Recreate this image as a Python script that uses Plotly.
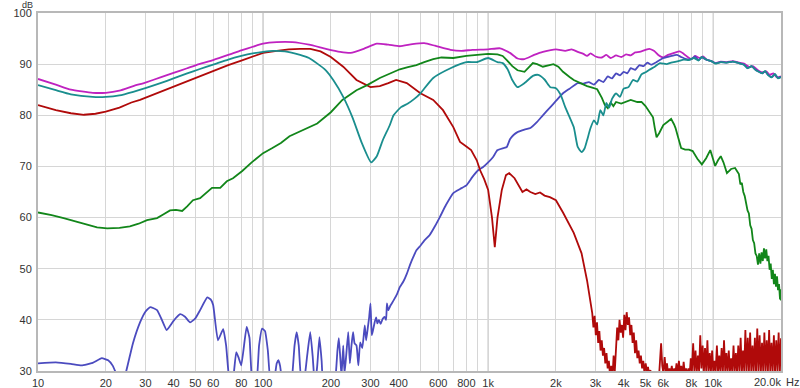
import numpy as np
import plotly.graph_objects as go

# ---------------- data ----------------
sum_freq = [10, 12, 14, 17.5, 20, 23, 26.5, 30, 35, 40, 46, 52, 60, 70, 80, 90, 100, 115, 135, 160, 190, 220, 245,
            280, 320, 360, 405, 460, 520, 580, 680, 760, 850, 1000, 1130, 1250, 1350, 1450, 1600, 1750, 2000, 2200,
            2350, 2500, 2650, 2750, 2850, 3000, 3200, 3350, 3500, 3700, 3900, 4100, 4300, 4500, 4700, 5000, 5200,
            5450, 5700, 6000, 6300, 6700, 7100, 7400, 7700, 8000, 8300, 8700, 9000, 9400, 9800, 10200, 10800, 11500,
            12200, 13000, 13700, 14500, 15000, 15800, 16500, 17200, 17800, 18500, 19200, 20000]
sum_db = [87.1, 86.0, 85.0, 84.4, 84.4, 84.8, 85.7, 86.4, 87.4, 88.3, 89.2, 90.0, 90.8, 91.8, 92.7, 93.4, 94.0, 94.3,
          94.3, 93.8, 93.0, 92.4, 92.2, 93.0, 94.0, 93.8, 93.5, 93.9, 94.1, 93.6, 92.8, 92.6, 92.8, 92.9, 93.1, 92.2,
          91.1, 91.0, 91.8, 92.4, 92.9, 92.6, 92.9, 92.4, 92.0, 91.6, 92.1, 91.5, 91.3, 91.8, 91.2, 91.7, 91.4, 91.9,
          91.7, 92.3, 92.4, 92.8, 93.0, 92.6, 91.8, 91.3, 91.8, 92.2, 92.5, 92.0, 91.4, 91.0, 91.6, 91.2, 91.5, 90.8,
          90.6, 90.2, 90.5, 90.4, 90.6, 90.3, 90.1, 89.4, 89.6, 88.8, 88.4, 88.6, 87.9, 88.2, 87.4, 87.6]

mid_freq = [10, 12, 14, 17.5, 20, 23, 26.5, 30, 35, 40, 46, 52, 60, 70, 80, 90, 100, 111, 125, 146, 160, 173, 190,
            205, 227, 250, 275, 302, 320, 340, 365, 380, 410, 440, 470, 500, 570, 680, 800, 890, 1000, 1100, 1160,
            1220, 1280, 1350, 1450, 1580, 1670, 1780, 1890, 2000, 2100, 2200, 2400, 2500, 2600, 2680, 2750, 2850,
            2950, 3050, 3150, 3250, 3350, 3450, 3550, 3700, 3850, 4000, 4200, 4400, 4600, 4800, 5000, 5200, 5500,
            5800, 6200, 6500, 7000, 7400, 7800, 8200, 8600, 8900, 9300, 9800, 10200, 10800, 11500, 12200, 13000,
            13700, 14200, 14800, 15400, 15800, 16500, 17000, 17500, 18200, 18800, 19400, 20000]
mid_db = [85.9, 84.9, 84.1, 83.6, 83.6, 83.9, 84.6, 85.3, 86.3, 87.2, 88.2, 89.0, 89.9, 90.9, 91.6, 92.1, 92.4, 92.6,
          92.5, 91.8, 91.2, 90.2, 88.8, 86.9, 83.6, 79.5, 74.5, 70.8, 72.0, 75.1, 78.0, 80.0, 81.6, 82.3, 83.2, 84.3,
          87.3, 89.2, 90.4, 90.4, 91.2, 90.4, 90.2, 89.0, 86.9, 85.5, 86.3, 87.7, 87.9, 87.0, 85.5, 85.3, 84.0, 81.6,
          77.7, 73.8, 72.8, 73.5, 75.1, 77.5, 79.0, 78.2, 81.0, 80.0, 82.4, 81.5, 83.2, 84.3, 83.6, 85.2, 85.5, 86.9,
          86.6, 88.0, 88.4, 88.9, 89.5, 90.2, 90.0, 90.3, 90.6, 90.9, 90.8, 91.2, 90.7, 91.4, 90.9, 90.6, 90.1, 90.4,
          90.3, 90.5, 90.2, 89.9, 89.2, 89.6, 88.9, 88.6, 88.2, 88.7, 87.9, 87.4, 88.1, 87.2, 87.5]

woofer_freq = [10, 12, 14, 16, 18, 20, 23, 26, 28.4, 32, 37, 43, 52, 60, 70, 80, 90, 100, 115, 130, 146, 162, 180,
               200, 227, 260, 300, 330, 360, 390, 435, 500, 570, 630, 700, 750, 800, 840, 890, 920, 960, 1000, 1040,
               1070, 1100, 1150, 1200, 1240, 1310, 1420, 1480, 1540, 1620, 1700, 1780, 1880, 2000, 2150, 2400, 2600,
               2750, 2850]
woofer_db = [82.0, 81.0, 80.4, 80.1, 80.3, 80.7, 81.5, 82.5, 83.0, 83.9, 85.0, 86.2, 87.7, 88.7, 89.8, 90.7, 91.5,
             92.2, 92.6, 92.9, 93.0, 93.0, 92.5, 91.4, 89.5, 86.9, 85.5, 85.7, 86.3, 86.9, 86.3, 84.3, 83.0, 81.0,
             77.7, 74.8, 73.9, 73.2, 71.2, 69.3, 67.5, 65.4, 60.0, 54.2, 60.0, 65.4, 68.3, 68.7, 67.7, 65.0, 65.5,
             65.0, 64.6, 64.9, 64.3, 64.0, 63.4, 61.0, 57.0, 53.0, 47.7, 43.2]
# woofer noise floor above 2.9 kHz (160 log-spaced readings 2.9k..20k)
woofer_hf_db = [41.3, 38.5, 40.8, 37.0, 39.5, 35.5, 37.8, 34.0, 36.0, 33.0,
                34.5, 31.5, 33.5, 30.5, 32.0, 29.0, 31.0, 28.5, 33.0, 30.0,
                35.0, 38.5, 36.0, 40.0, 37.5, 39.0, 36.5, 41.0, 38.0, 41.5,
                39.0, 40.5, 37.0, 39.0, 35.5, 37.5, 33.5, 36.0, 32.5, 34.0,
                31.5, 33.0, 30.5, 32.0, 29.5, 31.5, 30.0, 30.8, 29.0, 30.2,
                28.0, 29.0, 27.5, 28.5, 27.0, 29.0, 28.0, 33.0, 35.4, 31.0,
                29.5, 32.7, 30.0, 31.5, 29.0, 30.5, 29.5, 31.0, 29.0, 30.5,
                29.5, 31.5, 29.0, 32.0, 29.5, 31.0, 29.0, 31.8, 29.5, 30.5,
                29.0, 30.5, 29.0, 32.5, 30.0, 35.4, 30.0, 34.0, 29.5, 33.0,
                30.0, 37.0, 30.5, 35.0, 29.5, 34.5, 30.0, 36.0, 29.5, 33.5,
                30.0, 34.0, 29.5, 32.0, 30.0, 35.0, 29.5, 33.0, 30.0, 34.5,
                29.5, 36.0, 30.0, 33.5, 29.5, 34.0, 30.0, 32.5, 29.5, 35.0,
                30.0, 33.5, 29.5, 35.0, 30.0, 36.5, 29.5, 34.0, 30.0, 38.0,
                29.5, 36.5, 30.0, 37.5, 29.5, 35.0, 30.0, 36.5, 29.5, 38.3,
                30.0, 37.0, 29.5, 35.5, 30.0, 37.5, 29.5, 36.0, 30.0, 38.0,
                29.5, 35.5, 30.0, 37.0, 29.5, 36.0, 30.0, 37.5, 29.5, 36.4]

mr_freq = [10, 11.5, 13, 15, 18.3, 20.3, 23, 25.6, 28, 30.5, 33.8, 36, 38.6, 41, 43.7, 46, 48.8, 52.5, 56, 59.3, 64.5,
           69, 73.5, 80.8, 89, 100, 110, 120, 131, 146, 160, 174, 200, 225, 260, 290, 330, 370, 405, 440, 480, 520,
           570, 620, 700, 800, 900, 1000, 1100, 1160, 1210, 1280, 1350, 1450, 1580, 1650, 1750, 1850, 1950, 2050,
           2150, 2300, 2400, 2600, 2750, 2900, 3050, 3200, 3300, 3400, 3500, 3600, 3700, 3900, 4100, 4300, 4600,
           4800, 5000, 5200, 5400, 5500, 5600, 5750, 6000, 6250, 6500, 6700, 6800, 7000, 7200, 7500, 7800, 8100,
           8500, 8900, 9300, 9700, 10000, 10200, 10500, 10800, 11100, 11500, 12000, 12500, 13000, 13200, 13400,
           13600, 13800, 14000, 14200, 14400, 14600, 14800, 15000, 15200, 15400, 15600, 15800, 16000, 16200, 16400,
           16600, 16800, 17000, 17200, 17400, 17600, 17800, 18000, 18200, 18400, 18600, 18800, 19000, 19200, 19400,
           19600, 19800, 19900, 20000]
mr_db = [61.0, 60.5, 59.9, 59.2, 58.1, 57.9, 58.0, 58.3, 58.8, 59.5, 59.9, 60.6, 61.4, 61.5, 61.3, 62.2, 63.4, 63.8,
         64.8, 65.8, 65.8, 67.1, 67.7, 69.1, 70.8, 72.6, 73.6, 74.6, 75.9, 76.8, 77.6, 78.4, 80.6, 83.0, 84.9, 85.9,
         87.3, 88.3, 89.0, 89.4, 89.8, 90.4, 91.0, 91.3, 91.2, 91.6, 91.8, 92.0, 91.9, 91.6, 90.8, 89.6, 88.8, 88.5,
         90.2, 90.0, 89.5, 89.8, 90.0, 89.5, 88.5, 87.5, 86.9, 86.2, 85.7, 85.4, 85.1, 83.4, 82.0, 81.4, 82.5, 81.8,
         82.6, 82.3, 82.6, 83.0, 82.6, 82.6, 81.8, 80.8, 79.6, 77.5, 75.7, 76.5, 78.1, 78.7, 79.3, 78.2, 77.5, 75.5,
         73.6, 73.3, 73.3, 73.0, 71.5, 70.4, 71.6, 73.2, 71.5, 70.1, 71.2, 72.0, 70.8, 68.7, 69.5, 69.7, 68.5, 66.5,
         66.8, 65.0, 64.2, 62.8, 61.4, 60.8, 58.5, 57.8, 55.6, 55.0, 53.0, 52.5, 50.8, 53.0, 51.0, 53.2, 51.5, 54.0,
         52.0, 53.8, 51.5, 52.5, 49.8, 51.0, 48.0, 49.8, 47.0, 49.0, 46.5, 48.5, 45.8, 47.0, 44.0, 46.0, 43.8]

tw_freq = [10, 12, 14, 15.6, 17.5, 19.2, 20.5, 21.5, 22.5, 23.5, 24.6, 26.4, 28.4, 30, 31.5, 33.8, 35.5, 37.3, 40,
           42.8, 45, 47.4, 50, 52.5, 56.5, 58.5, 60, 63, 66.5, 68.5, 71, 73, 76, 78, 80, 84.5, 87, 90, 93, 96, 99,
           102, 105, 108, 112, 115, 117, 119, 122, 128, 134, 138, 141, 144, 148, 153, 157, 162, 166, 170, 174, 178,
           182, 186, 200, 210, 214, 217, 220, 223, 227, 230, 234, 239, 243, 247, 251, 255, 260, 265, 270, 276, 283,
           287, 292, 296, 300, 304, 308, 313, 318, 322, 327, 333, 340, 347, 352, 355, 360, 368, 380, 395, 405, 420,
           435, 450, 465, 480, 500, 520, 550, 580, 610, 650, 700, 750, 800, 850, 900, 950, 1000, 1050, 1100, 1170,
           1210, 1250, 1300, 1350, 1450, 1540, 1650, 1750, 1890, 2000, 2150, 2300, 2500, 2650, 2800, 2950, 3100,
           3250, 3400, 3550, 3700, 3850, 4000, 4150, 4300, 4500, 4700, 4900, 5100, 5300, 5600, 6000, 6400, 6900,
           7200, 7600, 8000, 8300, 8600, 8900, 9300, 9800, 10200, 10800, 11500, 12200, 13000, 13700, 14200, 14800,
           15400, 15800, 16500, 17000, 17500, 18200, 18800, 19400, 20000]
tw_db = [31.5, 31.7, 31.4, 31.1, 31.6, 32.5, 32.1, 31.0, 29.0, 27.5, 29.8, 35.4, 39.5, 41.6, 42.5, 41.9, 40.0, 38.0,
         39.8, 41.1, 40.6, 39.5, 40.3, 41.9, 44.4, 44.0, 42.9, 36.0, 38.2, 35.0, 28.0, 27.5, 33.7, 32.5, 31.1, 38.6,
         36.5, 27.0, 27.0, 35.0, 38.3, 37.8, 34.0, 28.0, 28.5, 31.5, 32.1, 31.0, 27.5, 25.0, 28.0, 35.0, 37.6, 35.0,
         28.0, 29.0, 33.0, 37.6, 33.0, 27.0, 31.0, 36.6, 32.0, 26.0, 24.0, 29.0, 34.0, 36.4, 33.0, 29.0, 35.0, 29.5,
         33.0, 37.6, 31.5, 35.0, 37.6, 35.4, 35.0, 31.1, 35.6, 34.5, 38.9, 36.0, 38.5, 40.5, 43.2, 37.0, 38.0, 39.5,
         40.5, 39.3, 40.0, 39.2, 40.2, 40.6, 40.0, 43.2, 41.9, 42.8, 43.8, 45.2, 46.4, 47.5, 49.0, 50.8, 52.3, 53.6,
         54.5, 55.5, 56.6, 58.3, 60.1, 62.5, 64.8, 65.6, 66.3, 67.9, 69.2, 69.9, 70.8, 71.8, 73.2, 73.6, 73.8, 75.3,
         76.2, 76.7, 77.2, 77.5, 78.7, 80.0, 81.6, 82.8, 84.3, 85.2, 86.3, 86.2, 86.5, 86.0, 86.9, 86.5, 87.6, 87.2,
         88.2, 87.8, 88.5, 88.2, 89.2, 88.9, 89.8, 89.6, 90.3, 89.9, 90.4, 91.2, 91.5, 91.8, 91.4, 91.0, 91.0, 91.5,
         90.8, 91.3, 90.9, 90.6, 90.2, 90.4, 90.3, 90.5, 90.2, 89.9, 89.2, 89.6, 88.9, 88.6, 88.2, 88.6, 87.9, 87.5,
         88.0, 87.3, 87.5]

tick_vals = [10, 20, 30, 40, 50, 60, 70, 80, 90, 100, 200, 300, 400, 500, 600, 700, 800, 900, 1000,
             2000, 3000, 4000, 5000, 6000, 7000, 8000, 9000, 10000, 20000]
tick_text = ["10", "20", "30", "40", "50", "60", "", "80", "", "100", "200", "300", "400", "", "600", "", "800", "",
             "1k", "2k", "3k", "4k", "5k", "6k", "", "8k", "", "10k", ""]
decades = [100, 1000, 10000]

# ---------------- figure ----------------
woofer_hf_freq = np.geomspace(2900, 20000, len(woofer_hf_db))
w_f = list(woofer_freq) + list(woofer_hf_freq)
w_d = list(woofer_db) + list(woofer_hf_db)

fig = go.Figure()
LW = 1.8
fig.add_trace(go.Scatter(x=sum_freq, y=sum_db, mode="lines", line=dict(color="#bf22c0", width=LW, shape="spline", smoothing=0.5), name="sum"))
fig.add_trace(go.Scatter(x=tw_freq, y=tw_db, mode="lines", line=dict(color="#4b4bbf", width=LW, shape="spline", smoothing=0.4), name="tweeter"))
fig.add_trace(go.Scatter(x=w_f, y=w_d, mode="lines", line=dict(color="#b00a0a", width=LW), name="woofer"))
fig.add_trace(go.Scatter(x=mr_freq, y=mr_db, mode="lines", line=dict(color="#12861a", width=LW), name="mid"))
fig.add_trace(go.Scatter(x=mid_freq, y=mid_db, mode="lines", line=dict(color="#1a8e8e", width=LW, shape="spline", smoothing=0.5), name="midrange"))

for d in decades:
    fig.add_shape(type="line", xref="x", yref="paper", x0=d, x1=d, y0=0, y1=1,
                  line=dict(color="#a9a9a9", width=1), layer="below")

fig.update_layout(
    width=800, height=388,
    margin=dict(l=38, r=19, t=13, b=17, autoexpand=False),
    paper_bgcolor="white", plot_bgcolor="white",
    showlegend=False,
    font=dict(family="Liberation Sans, Arial, sans-serif", size=11, color="#333333"),
)
fig.update_xaxes(type="log", range=[1, np.log10(20000)], tickvals=tick_vals, ticktext=tick_text,
                 showgrid=True, gridcolor="#d6d6d6", gridwidth=1, ticks="", zeroline=False, automargin=False,
                 showline=True, linecolor="#b8b8b8", linewidth=2, mirror=True, ticklabelstandoff=1)
fig.update_yaxes(range=[30, 100], dtick=10, showgrid=True, gridcolor="#d6d6d6", gridwidth=1, ticks="",
                 zeroline=False, automargin=False, showline=True, linecolor="#b8b8b8", linewidth=2, mirror=True,
                 ticklabelstandoff=2)

fig.add_annotation(text="dB", xref="paper", yref="paper", x=0, y=1, xanchor="right", yanchor="middle",
                   xshift=-3, yshift=8, showarrow=False, font=dict(size=9, color="#333333"))
fig.add_annotation(text="20.0k", xref="paper", yref="paper", x=1, y=0, xanchor="right", yanchor="middle",
                   xshift=2, yshift=-11, showarrow=False, font=dict(size=11, color="#333333"))
fig.add_annotation(text="Hz", xref="paper", yref="paper", x=1, y=0, xanchor="left", yanchor="middle",
                   xshift=3, yshift=-11, showarrow=False, font=dict(size=11, color="#333333"))

fig.write_html("out.html")
